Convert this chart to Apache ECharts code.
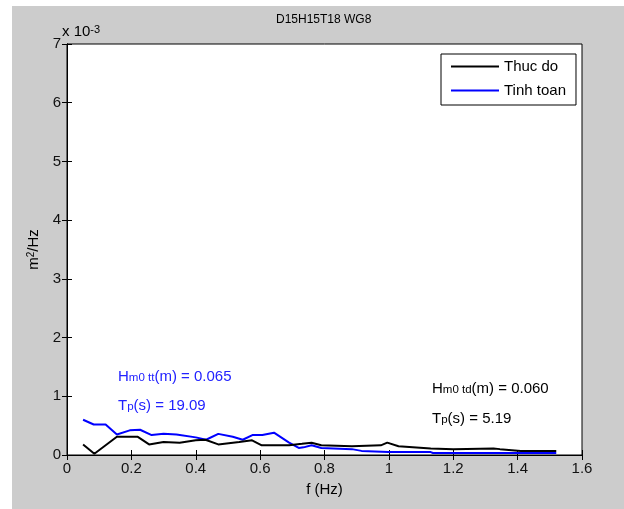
<!DOCTYPE html>
<html>
<head>
<meta charset="utf-8">
<script src="https://cdn.jsdelivr.net/npm/echarts@6/dist/echarts.min.js"></script>
<style>
html,body{margin:0;padding:0;background:#fff;}
#chart{position:absolute;left:12px;top:6px;width:612px;height:503px;background:#cccccc;}
</style>
</head>
<body>
<div id="chart"></div>
<script>
// Data (spectral density, units of 1e-3 m^2/Hz)
var fThuc = [0.05, 0.085, 0.155, 0.22, 0.255, 0.30, 0.35, 0.40, 0.43, 0.47, 0.535, 0.575, 0.605, 0.69, 0.73, 0.76, 0.79, 0.885, 0.975, 0.995, 1.03, 1.13, 1.20, 1.325, 1.345, 1.41, 1.52];
var vThuc = [0.18, 0.02, 0.31, 0.31, 0.18, 0.22, 0.21, 0.25, 0.26, 0.18, 0.22, 0.25, 0.165, 0.165, 0.19, 0.21, 0.165, 0.15, 0.165, 0.21, 0.15, 0.11, 0.10, 0.11, 0.10, 0.07, 0.07];
var fTinh = [0.05, 0.083, 0.12, 0.155, 0.195, 0.227, 0.263, 0.30, 0.34, 0.40, 0.432, 0.47, 0.515, 0.546, 0.576, 0.607, 0.643, 0.69, 0.72, 0.735, 0.76, 0.79, 0.885, 0.915, 0.998, 1.13, 1.137, 1.52];
var vTinh = [0.60, 0.52, 0.52, 0.35, 0.42, 0.43, 0.34, 0.36, 0.35, 0.30, 0.26, 0.36, 0.31, 0.26, 0.34, 0.34, 0.38, 0.21, 0.12, 0.13, 0.165, 0.12, 0.10, 0.07, 0.05, 0.05, 0.035, 0.035];
var seriesNames = ['Thuc do', 'Tinh toan'];
var xTicks = [0, 0.2, 0.4, 0.6, 0.8, 1, 1.2, 1.4, 1.6];
var yTicks = [0, 1, 2, 3, 4, 5, 6, 7];
var titleText = 'D15H15T18 WG8';

function zip(a, b) { return a.map(function (x, i) { return [x, b[i]]; }); }

var FONT = '"Liberation Sans", Arial, sans-serif';
var chart = echarts.init(document.getElementById('chart'));
var tickCommon = {inside: true, length: 5, lineStyle: {color: '#000'}};
function annRich(color) {
  return {
    n: {fontSize: 15, fill: color, fontFamily: FONT, lineHeight: 15, verticalAlign: 'top'},
    s: {fontSize: 11.5, fill: color, fontFamily: FONT, lineHeight: 11, padding: [9, 0, 0, 0], verticalAlign: 'bottom'}
  };
}
var option = {
  animation: false,
  textStyle: {fontFamily: FONT},
  title: {text: titleText, left: 264, top: 8, padding: 0,
    textStyle: {fontSize: 12, fontWeight: 'normal', color: '#000', fontFamily: FONT}},
  grid: {left: 51, top: 38, width: 519, height: 411, show: true, backgroundColor: '#fff',
    borderColor: '#000', borderWidth: 1},
  legend: {
    orient: 'vertical', left: 429, top: 48,
    padding: [5, 10, 7, 9], itemWidth: 48, itemHeight: 14, itemGap: 9,
    backgroundColor: '#fff', borderColor: '#000', borderWidth: 1, borderRadius: 0,
    itemStyle: {opacity: 0, borderWidth: 0},
    lineStyle: {width: 2},
    textStyle: {fontSize: 15, color: '#000', fontFamily: FONT, padding: [0, 0, 0, 0]},
    data: seriesNames
  },
  xAxis: [{
    type: 'value', min: xTicks[0], max: xTicks[xTicks.length - 1], interval: 0.2,
    name: 'f (Hz)', nameLocation: 'middle', nameGap: 27,
    nameTextStyle: {fontSize: 15, color: '#000', fontFamily: FONT},
    axisLine: {show: true, lineStyle: {color: '#000'}},
    axisTick: tickCommon,
    axisLabel: {fontSize: 15, color: '#111', margin: 6, fontFamily: FONT,
      formatter: function (v) { return String(Math.round(v * 10) / 10); }},
    splitLine: {show: false}
  }, {
    type: 'value', position: 'top', min: xTicks[0], max: xTicks[xTicks.length - 1], interval: 0.2,
    axisLine: {show: true, lineStyle: {color: '#000'}},
    axisTick: tickCommon, axisLabel: {show: false}, splitLine: {show: false}
  }],
  yAxis: [{
    type: 'value', min: yTicks[0], max: yTicks[yTicks.length - 1], interval: 1,
    name: '{n|m}{s|2}{n|/Hz}', nameLocation: 'middle', nameGap: 26,
    nameTextStyle: {fontSize: 15, color: '#000', fontFamily: FONT,
      rich: {
        n: {fontSize: 15, color: '#000', fontFamily: FONT, lineHeight: 15, padding: [6, 0, 0, 0], verticalAlign: 'bottom'},
        s: {fontSize: 10, color: '#000', fontFamily: FONT, lineHeight: 10, verticalAlign: 'top'}
      }},
    axisLine: {show: true, lineStyle: {color: '#000'}},
    axisTick: tickCommon,
    axisLabel: {fontSize: 15, color: '#111', margin: 6, fontFamily: FONT},
    splitLine: {show: false}
  }, {
    type: 'value', position: 'right', min: yTicks[0], max: yTicks[yTicks.length - 1], interval: 1,
    axisLine: {show: true, lineStyle: {color: '#000'}},
    axisTick: tickCommon, axisLabel: {show: false}, splitLine: {show: false}
  }],
  series: [{
    name: seriesNames[0], type: 'line', symbol: 'none', data: zip(fThuc, vThuc),
    lineStyle: {color: '#000', width: 2}, itemStyle: {color: '#000'}, z: 3
  }, {
    name: seriesNames[1], type: 'line', symbol: 'none', data: zip(fTinh, vTinh),
    lineStyle: {color: '#0000ff', width: 2}, itemStyle: {color: '#0000ff'}, z: 2
  }],
  graphic: [
    {type: 'text', left: 50, top: 11, z: 10, style: {
      text: '{n|x 10}{s|-3}', fill: '#000',
      rich: {
        n: {fontSize: 15, fill: '#000', fontFamily: FONT, lineHeight: 15, padding: [7, 0, 0, 0], verticalAlign: 'bottom'},
        s: {fontSize: 11, fill: '#000', fontFamily: FONT, lineHeight: 11, verticalAlign: 'top'}
      }}},
    {type: 'text', left: 106, top: 357, z: 10, style: {
      text: '{n|H}{s|m0 tt}{n|(m) = 0.065}', fill: '#2222ff', rich: annRich('#2222ff')}},
    {type: 'text', left: 106, top: 386, z: 10, style: {
      text: '{n|T}{s|p}{n|(s) = 19.09}', fill: '#2222ff', rich: annRich('#2222ff')}},
    {type: 'text', left: 420, top: 369, z: 10, style: {
      text: '{n|H}{s|m0 td}{n|(m) = 0.060}', fill: '#000', rich: annRich('#000')}},
    {type: 'text', left: 420, top: 399, z: 10, style: {
      text: '{n|T}{s|p}{n|(s) = 5.19}', fill: '#000', rich: annRich('#000')}}
  ]
};
chart.setOption(option);
</script>
</body>
</html>
